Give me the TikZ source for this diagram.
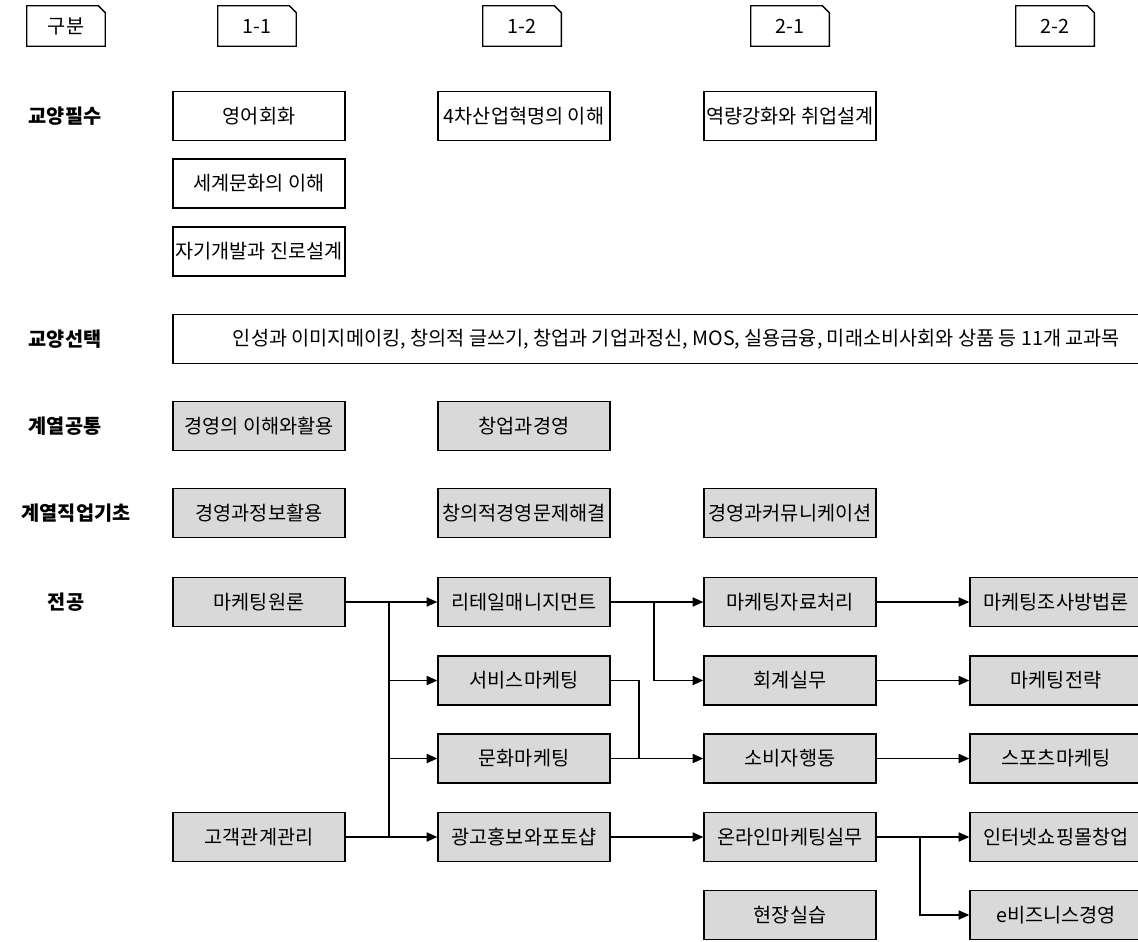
\documentclass[tikz,border=0pt]{standalone}
\usepackage{fontspec}
\setmainfont{Noto Sans CJK KR}
\usetikzlibrary{positioning,arrows.meta}
\definecolor{boxgray}{RGB}{217,217,217}
\tikzset{
  subj/.style={draw, line width=1pt, minimum width=4.3cm, minimum height=1.225cm, inner sep=0pt, font=\fontsize{14}{16}\selectfont},
  core/.style={subj, fill=boxgray},
  term/.style={minimum width=1.95cm, minimum height=1cm, inner sep=0pt, font=\fontsize{14}{16}\selectfont},
  area/.style={font=\bfseries\fontsize{14}{16}\selectfont},
  arr/.style={-{Triangle[length=7.5pt,width=6.5pt]}, line width=0.8pt},
  link/.style={line width=0.8pt}
}

\begin{document}
\begin{tikzpicture}[x=0.025cm, y=-0.025cm]

% page
\fill [white] (0,0) rectangle (1138,941);
\useasboundingbox (0,0) rectangle (1138,941);
% semesters
\node [term] (hd0) at (66,26) {구분};
\node [term] (hd1) at (257,26) {1-1};
\node [term] (hd2) at (522,26) {1-2};
\node [term] (hd3) at (790,26) {2-1};
\node [term] (hd4) at (1055,26) {2-2};
\foreach \h in {hd0,hd1,hd2,hd3,hd4}
  \draw [line width=1pt, line join=miter] (\h.south west) -- (\h.north west) -- ([xshift=-5pt]\h.north east)
    -- ([yshift=-5pt]\h.north east) -- (\h.south east) -- cycle;
% areas
\node [area] (req) at (65,116) {교양필수};
\node [area] (opt) at (65,339) {교양선택};
\node [area] (com) at (65,426) {계열공통};
\node [area] (bas) at (76,513) {계열직업기초};
\node [area] (maj) at (66,602) {전공};
% general courses
\node [subj] (eng) at (259,116) {영어회화};
\node [subj] (ind) at (524,116) {4차산업혁명의 이해};
\node [subj] (job) at (790,116) {역량강화와 취업설계};
\node [subj] (cult) at (259,183.5) {세계문화의 이해};
\node [subj] (career) at (259,251.5) {자기개발과 진로설계};
\node [subj, minimum width=25.175cm] (elect) at (676.5,339) {인성과 이미지메이킹, 창의적 글쓰기, 창업과 기업과정신, MOS, 실용금융, 미래소비사회와 상품 등 11개 교과목};
% field courses
\node [core] (mgmt) at (259,426) {경영의 이해와활용};
\node [core] (start) at (524,426) {창업과경영};
\node [core] (info) at (259,513) {경영과정보활용};
\node [core] (solve) at (524,513) {창의적경영문제해결};
\node [core] (comm) at (790,513) {경영과커뮤니케이션};
% major courses
\node [core] (mkt) at (259,602) {마케팅원론};
\node [core] (crm) at (259,837) {고객관계관리};
\node [core] (retail) at (524,602) {리테일매니지먼트};
\node [core] (svc) at (524,680.5) {서비스마케팅};
\node [core] (cul) at (524,758.5) {문화마케팅};
\node [core] (ad) at (524,837) {광고홍보와포토샵};
\node [core] (data) at (790,602) {마케팅자료처리};
\node [core] (acc) at (790,680.5) {회계실무};
\node [core] (cons) at (790,758.5) {소비자행동};
\node [core] (onl) at (790,837) {온라인마케팅실무};
\node [core] (field) at (790,915) {현장실습};
\node [core] (res) at (1056,602) {마케팅조사방법론};
\node [core] (strat) at (1056,680.5) {마케팅전략};
\node [core] (sport) at (1056,758.5) {스포츠마케팅};
\node [core] (shop) at (1056,837) {인터넷쇼핑몰창업};
\node [core] (ebiz) at (1056,915) {e비즈니스경영};
% junctions
\coordinate (j1) at (389,602);
\coordinate (j1b) at (389,837);
\coordinate (j2) at (654,602);
\coordinate (j3) at (639,758.5);
\coordinate (j4) at (920,837);
% 1-1 to 1-2
\draw [arr] (mkt.east) -- (retail.west);
\draw [arr] (crm.east) -- (ad.west);
\draw [link] (j1) -- (j1b);
\draw [arr] (j1 |- svc.west) -- (svc.west);
\draw [arr] (j1 |- cul.west) -- (cul.west);
% 1-2 to 2-1
\draw [arr] (retail.east) -- (data.west);
\draw [arr] (j2) |- (acc.west);
\draw [link] (svc.east) -| (j3);
\draw [arr] (cul.east) -- (cons.west);
\draw [arr] (ad.east) -- (onl.west);
% 2-1 to 2-2
\draw [arr] (data.east) -- (res.west);
\draw [arr] (acc.east) -- (strat.west);
\draw [arr] (cons.east) -- (sport.west);
\draw [arr] (onl.east) -- (shop.west);
\draw [arr] (j4) |- (ebiz.west);

\end{tikzpicture}
\end{document}
